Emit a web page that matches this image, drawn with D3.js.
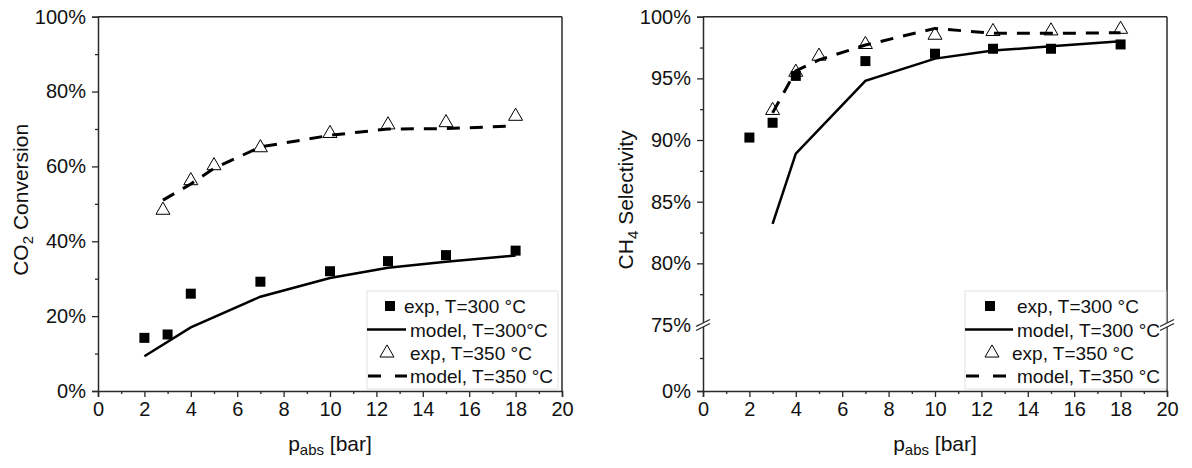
<!DOCTYPE html>
<html><head><meta charset="utf-8">
<script src="https://cdn.jsdelivr.net/npm/d3@7"></script>
<style>body{margin:0;background:#fff}svg{display:block;font-family:"Liberation Sans",Arial,sans-serif}</style>
</head><body><svg id="c" width="1192" height="468"></svg>
<script>
// ---------- data ----------
const xExp = [2, 3, 4, 7, 10, 12.5, 15, 18];
// Left: CO2 conversion (%)
const convExp300 = [14.2, 15.1, 26.0, 29.2, 32.0, 34.7, 36.3, 37.5];
const convModel300X = [2, 4, 7, 10, 12.5, 15, 18];
const convModel300 = [9.3, 17.0, 25.2, 30.2, 32.9, 34.5, 36.2];
const convExp350X = [2.8, 4, 5, 7, 10, 12.5, 15, 18];
const convExp350 = [48.3, 56.2, 60.2, 65.0, 68.8, 71.1, 71.7, 73.4];
const convModel350X = [2.8, 4, 5, 7, 10, 12.5, 15, 18];
const convModel350 = [51.0, 55.3, 59.5, 65.2, 68.3, 70.0, 70.1, 70.8];
// Right: CH4 selectivity (%)
const selExp300 = [90.2, 91.4, 95.2, 96.4, 97.0, 97.4, 97.4, 97.75];
const selModel300X = [3, 4, 7, 10, 12.5, 15, 18];
const selModel300 = [83.2, 88.9, 94.8, 96.6, 97.25, 97.6, 98.0];
const selExp350X = [3, 4, 5, 7, 10, 12.5, 15, 18];
const selExp350 = [92.4, 95.5, 96.8, 97.75, 98.5, 98.8, 98.85, 98.98];
const selModel350X = [3, 4, 5, 7, 10, 12.5, 15, 18];
const selModel350 = [92.2, 95.6, 96.5, 97.7, 99.05, 98.65, 98.65, 98.7];
// ticks
const xTicks = [0, 2, 4, 6, 8, 10, 12, 14, 16, 18, 20];
const xMinor = [1, 3, 5, 7, 9, 11, 13, 15, 17, 19];
const convTicks = [0, 20, 40, 60, 80, 100];
const convMinor = [10, 30, 50, 70, 90];
const selTicks = [0, 75, 80, 85, 90, 95, 100];
const selMinor = [37.5, 77.5, 82.5, 87.5, 92.5, 97.5];
const legendLabelsL = ["exp, T=300 °C", "model, T=300°C", "exp, T=350 °C", "model, T=350 °C"];
const legendLabelsR = ["exp, T=300 °C", "model, T=300 °C", "exp, T=350 °C", "model, T=350 °C"];

// ---------- drawing ----------
const svg = d3.select("#c");
const AX = "#2a2a2a";
const yTop = 16.7, yBot = 391;

function panel(opt) {
  const g = svg.append("g");
  const x = d3.scaleLinear().domain([0, 20]).range([opt.x0, opt.x1]);
  const y = opt.y;
  g.append("line").attr("x1", opt.x0).attr("x2", opt.x1).attr("y1", yTop).attr("y2", yTop).attr("stroke", AX).attr("stroke-width", 1.5);
  g.append("line").attr("x1", opt.x1).attr("x2", opt.x1).attr("y1", yTop).attr("y2", yBot).attr("stroke", AX).attr("stroke-width", 1.5);
  g.append("g").attr("transform", `translate(0,${yBot})`)
    .call(d3.axisBottom(x).tickValues(xTicks).tickSize(6).tickPadding(5).tickFormat(d3.format("d")));
  g.append("g").attr("transform", `translate(0,${yBot})`)
    .call(d3.axisBottom(x).tickValues(xMinor).tickSize(3).tickFormat(""))
    .call(s => s.select(".domain").remove());
  g.append("g").attr("transform", `translate(${opt.x0},0)`)
    .call(d3.axisLeft(y).tickValues(opt.ticks).tickSize(6).tickPadding(6).tickFormat(d => d + "%"));
  g.append("g").attr("transform", `translate(${opt.x0},0)`)
    .call(d3.axisLeft(y).tickValues(opt.minor).tickSize(3).tickFormat(""))
    .call(s => s.select(".domain").remove());
  g.selectAll(".domain").attr("stroke", AX).attr("stroke-width", 1.5);
  g.selectAll(".tick line").attr("stroke", AX).attr("stroke-width", 1.3);
  g.selectAll(".tick text").attr("font-size", 20).attr("fill", "#111").attr("font-family", "Liberation Sans, Arial, sans-serif");

  const cx = (opt.x0 + opt.x1) / 2;
  const xt = g.append("text").attr("x", cx).attr("y", 451).attr("text-anchor", "middle").attr("font-size", 21).attr("fill", "#111");
  xt.append("tspan").text("p");
  xt.append("tspan").attr("font-size", 15).attr("dy", 4).text("abs");
  xt.append("tspan").attr("dy", -4).text(" [bar]");
  const yt = g.append("text").attr("transform", `translate(${opt.x0 - 70},${(yTop + yBot) / 2 - 4}) rotate(-90)`)
    .attr("text-anchor", "middle").attr("font-size", 21).attr("fill", "#111");
  yt.append("tspan").text(opt.yTitle[0]);
  yt.append("tspan").attr("font-size", 15).attr("dy", 5).text(opt.yTitle[1]);
  yt.append("tspan").attr("dy", -5).text(opt.yTitle[2]);

  const line = d3.line().x(d => x(d[0])).y(d => y(d[1]));
  g.append("g").selectAll("rect").data(d3.zip(xExp, opt.exp300)).join("rect")
    .attr("x", d => x(d[0]) - 5).attr("y", d => y(d[1]) - 5).attr("width", 10).attr("height", 10).attr("fill", "#000");
  g.append("path").datum(d3.zip(opt.m300x, opt.m300)).attr("d", line).attr("fill", "none").attr("stroke", "#000").attr("stroke-width", 2.5);
  g.append("path").datum(d3.zip(opt.m350x, opt.m350)).attr("d", line).attr("fill", "none").attr("stroke", "#000").attr("stroke-width", 3).attr("stroke-dasharray", "13,10");
  const tri = d3.symbol().type(d3.symbolTriangle).size(85);
  g.append("g").selectAll("path").data(d3.zip(opt.e350x, opt.e350)).join("path")
    .attr("d", tri).attr("transform", d => `translate(${x(d[0])},${y(d[1])})`)
    .attr("fill", "none").attr("stroke", "#000").attr("stroke-width", 1);

  const L = opt.leg;
  const lg = g.append("g");
  lg.append("rect").attr("x", L.x0).attr("y", 291).attr("width", L.x1 - L.x0).attr("height", 98)
    .attr("fill", "#fff").attr("stroke", "#e2e2e2").attr("stroke-width", 1);
  const rows = [306, 329.5, 353, 376];
  lg.append("rect").attr("x", L.sq - 5).attr("y", rows[0] - 5).attr("width", 10).attr("height", 10).attr("fill", "#000");
  lg.append("line").attr("x1", L.x0).attr("x2", L.lineEnd).attr("y1", rows[1]).attr("y2", rows[1]).attr("stroke", "#000").attr("stroke-width", 2.5);
  lg.append("path").attr("d", tri).attr("transform", `translate(${L.tri},${rows[2]})`).attr("fill", "none").attr("stroke", "#000");
  lg.append("line").attr("x1", L.x0 + 1).attr("x2", L.dashEnd).attr("y1", rows[3]).attr("y2", rows[3]).attr("stroke", "#000").attr("stroke-width", 3).attr("stroke-dasharray", "13,14");
  opt.labels.forEach((t, i) => {
    lg.append("text").attr("x", L.tx[i]).attr("y", rows[i] + 7).attr("font-size", 19).attr("fill", "#111").text(t);
  });
  return { g, x, y };
}

const yL = d3.scaleLinear().domain([0, 100]).range([yBot, yTop]);
panel({
  x0: 98, x1: 562, y: yL, ticks: convTicks, minor: convMinor, yTitle: ["CO", "2", " Conversion"],
  exp300: convExp300, m300x: convModel300X, m300: convModel300,
  e350x: convExp350X, e350: convExp350, m350x: convModel350X, m350: convModel350,
  labels: legendLabelsL,
  leg: { x0: 367, x1: 558, sq: 390, lineEnd: 406, tri: 387, dashEnd: 407, tx: [404, 410, 410, 410] }
});

const yR = d3.scaleLinear().domain([0, 75, 100]).range([yBot, 325, yTop]);
const R = panel({
  x0: 703, x1: 1167, y: yR, ticks: selTicks, minor: selMinor, yTitle: ["CH", "4", " Selectivity"],
  exp300: selExp300, m300x: selModel300X, m300: selModel300,
  e350x: selExp350X, e350: selExp350, m350x: selModel350X, m350: selModel350,
  labels: legendLabelsR,
  leg: { x0: 965, x1: 1166, sq: 990, lineEnd: 1013, tri: 992, dashEnd: 1008, tx: [1017, 1017, 1012, 1017] }
});

[703, 1167].forEach(bx => {
  const by = yR(75);
  R.g.append("polygon").attr("points", `${bx - 7},${by + 5.5} ${bx + 7},${by - 1.5} ${bx + 7},${by - 5.5} ${bx - 7},${by + 1.5}`).attr("fill", "#fff");
  [-2, 2].forEach(o => {
    R.g.append("line").attr("x1", bx - 7).attr("y1", by + 3.5 + o).attr("x2", bx + 7).attr("y2", by - 3.5 + o)
      .attr("stroke", AX).attr("stroke-width", 1.3);
  });
});
</script></body></html>
